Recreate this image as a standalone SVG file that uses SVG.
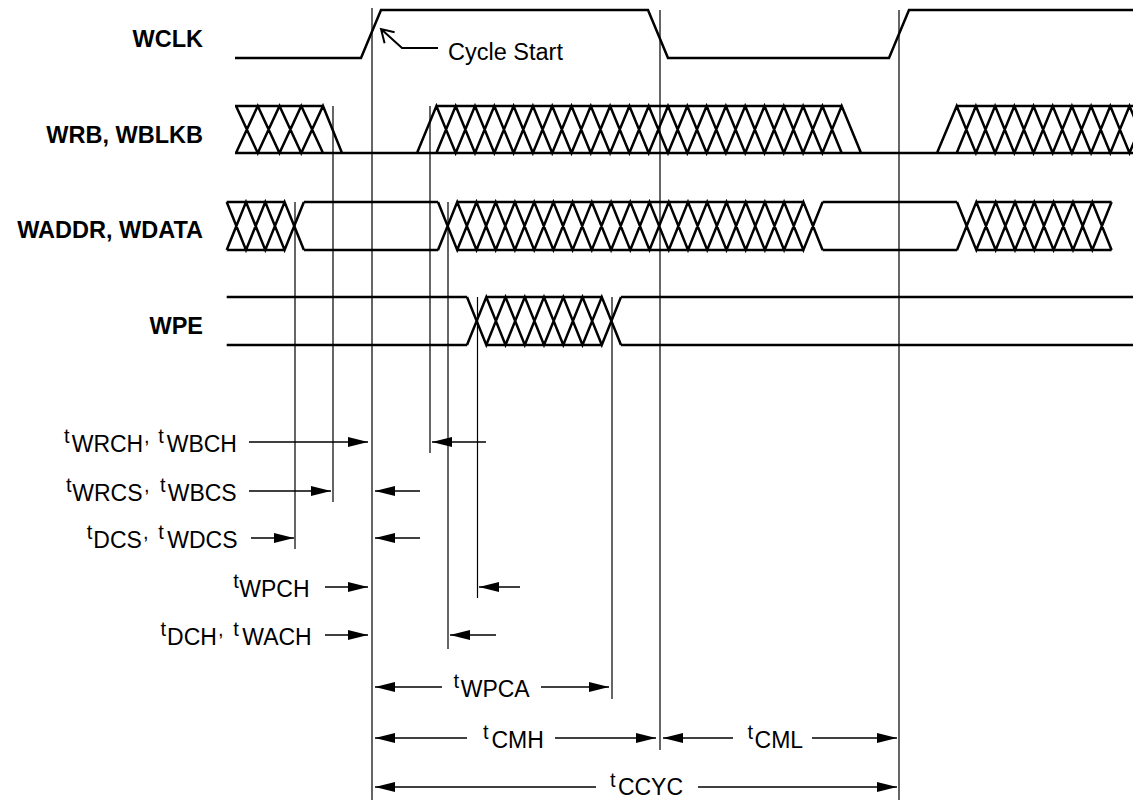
<svg xmlns="http://www.w3.org/2000/svg" width="1133" height="800" viewBox="0 0 1133 800">
<style>
.sig{fill:none;stroke:#000;stroke-width:2.5;stroke-linejoin:miter}
.guide{fill:none;stroke:#000;stroke-width:1.2}
.arr{fill:none;stroke:#000;stroke-width:1.3;marker-end:url(#ah)}
.lbl{font-family:"Liberation Sans",Arial,sans-serif;font-weight:bold;font-size:23.5px;fill:#000;text-anchor:end}
.tl{font-family:"Liberation Sans",Arial,sans-serif;font-size:23px;fill:#000}
.sp{font-size:20px}
</style>
<defs>
<marker id="ah" markerUnits="userSpaceOnUse" markerWidth="20" markerHeight="10" refX="20" refY="5" orient="auto">
<path d="M0 0 L20 5 L0 10 Z" fill="#000"/>
</marker>
</defs>
<rect width="1133" height="800" fill="#fff"/>

<g id="wclk">
<text class="lbl" x="203" y="47">WCLK</text>
<path class="sig" d="M235 58 H361 L381 10 H648 L668 58 H889 L909 10 H1133"/>
<path fill="none" stroke="#000" stroke-width="2" d="M438 48 H402 L381 29 M394.6 32.2 L381 29 L384.6 43.3"/>
<text class="tl" x="448" y="60" style="font-size:23.5px">Cycle Start</text>
</g>

<g id="wrb">
<text class="lbl" x="203" y="143">WRB, WBLKB</text>
<path class="sig" d="M235 153 H1133 M235 106 H323
M236 106 L257.75 153 L279.5 106 L301.25 153 L323 106 L342 153
M236 153 L257.75 106 L279.5 153 L301.25 106 L323 153
M436.4 106 H841.7
M417 153 L436.4 106 L455.7 153 L475 106 L494.3 153 L513.6 106 L532.9 153 L552.2 106 L571.5 153 L590.8 106 L610.1 153 L629.4 106 L648.7 153 L668 106 L687.3 153 L706.6 106 L725.9 153 L745.2 106 L764.5 153 L783.8 106 L803.1 153 L822.4 106 L841.7 153
M436.4 153 L455.7 106 L475 153 L494.3 106 L513.6 153 L532.9 106 L552.2 153 L571.5 106 L590.8 153 L610.1 106 L629.4 153 L648.7 106 L668 153 L687.3 106 L706.6 153 L725.9 106 L745.2 153 L764.5 106 L783.8 153 L803.1 106 L822.4 153 L841.7 106 L861 153
M956.7 106 H1133
M937 153 L956.7 106 L975.9 153 L995.1 106 L1014.3 153 L1033.5 106 L1052.7 153 L1071.9 106 L1091.1 153 L1110.3 106 L1129.5 153 L1148.7 106
M956.7 153 L975.9 106 L995.1 153 L1014.3 106 L1033.5 153 L1052.7 106 L1071.9 153 L1091.1 106 L1110.3 153 L1129.5 106 L1148.7 153"/>
</g>

<g id="waddr">
<text class="lbl" x="203" y="238">WADDR, WDATA</text>
<path class="sig" d="M226.7 202 H284.6 M226.7 250 H284.6
M226.7 202 L246 250 L265.3 202 L284.6 250 L303.9 202
M226.7 250 L246 202 L265.3 250 L284.6 202 L303.9 250
M303.9 202 H438 M303.9 250 H438
M438 202 L457.2 250 L476.5 202 L495.7 250 L514.9 202 L534.2 250 L553.4 202 L572.6 250 L591.8 202 L611.1 250 L630.3 202 L649.5 250 L668.8 202 L688 250 L707.2 202 L726.5 250 L745.7 202 L764.9 250 L784.1 202 L803.4 250 L822.6 202
M438 250 L457.2 202 L476.5 250 L495.7 202 L514.9 250 L534.2 202 L553.4 250 L572.6 202 L591.8 250 L611.1 202 L630.3 250 L649.5 202 L668.8 250 L688 202 L707.2 250 L726.5 202 L745.7 250 L764.9 202 L784.1 250 L803.4 202 L822.6 250
M457.2 202 H803.4 M457.2 250 H803.4
M822.6 202 H957 M822.6 250 H957
M957 202 L976.3 250 L995.7 202 L1015 250 L1034.3 202 L1053.6 250 L1073 202 L1092.3 250 L1111.6 202
M957 250 L976.3 202 L995.7 250 L1015 202 L1034.3 250 L1053.6 202 L1073 250 L1092.3 202 L1111.6 250
M976.3 202 H1111.6 M976.3 250 H1111.6"/>
</g>

<g id="wpe">
<text class="lbl" x="203" y="334">WPE</text>
<path class="sig" d="M226.7 297 H467 M226.7 345 H467
M467 297 L486.3 345 L505.5 297 L524.8 345 L544 297 L563.3 345 L582.5 297 L601.8 345 L621 297
M467 345 L486.3 297 L505.5 345 L524.8 297 L544 345 L563.3 297 L582.5 345 L601.8 297 L621 345
M486.3 297 H601.8 M486.3 345 H601.8
M621 297 H1133 M621 345 H1133"/>
</g>

<g id="connectors">
<path class="guide" d="M295 202 V549 M333 106 V502 M372 8 V800 M430 106 V453 M448 202 V649 M477.5 297 V598 M612 297 V699 M660 10 V750 M899 10 V800"/>
<path class="arr" d="M249 442 L368 442"/>
<path class="arr" d="M486 442 L432 442"/>
<path class="arr" d="M249 491 L331 491"/>
<path class="arr" d="M420 491 L375 491"/>
<path class="arr" d="M251 538 L294 538"/>
<path class="arr" d="M420 538 L375 538"/>
<path class="arr" d="M325 587 L368 587"/>
<path class="arr" d="M520 587 L479 587"/>
<path class="arr" d="M325 635 L368 635"/>
<path class="arr" d="M496 635 L450 635"/>
<path class="arr" d="M442 687 L375 687"/>
<path class="arr" d="M541 687 L609 687"/>
<path class="arr" d="M467 738 L375 738"/>
<path class="arr" d="M555 738 L656 738"/>
<path class="arr" d="M733 738 L663 738"/>
<path class="arr" d="M812 738 L897 738"/>
<path class="arr" d="M596 787 L375 787"/>
<path class="arr" d="M698 787 L897 787"/>
</g>

<g id="t-wrch">
<text class="tl"><tspan class="sp" x="64" y="443">t</tspan><tspan x="71.7" y="452">WRCH</tspan><tspan class="sp" x="144" y="443">,</tspan><tspan class="sp" x="158.3" y="443">t</tspan><tspan x="166.7" y="452">WBCH</tspan></text>
</g>
<g id="t-wrcs">
<text class="tl"><tspan class="sp" x="66" y="492">t</tspan><tspan x="72.3" y="501">WRCS</tspan><tspan class="sp" x="144" y="492">,</tspan><tspan class="sp" x="160" y="492">t</tspan><tspan x="167.7" y="501">WBCS</tspan></text>
</g>
<g id="t-dcs">
<text class="tl"><tspan class="sp" x="86.7" y="539">t</tspan><tspan x="93.3" y="548">DCS</tspan><tspan class="sp" x="143" y="539">,</tspan><tspan class="sp" x="158.3" y="539">t</tspan><tspan x="167.3" y="548">WDCS</tspan></text>
</g>
<g id="t-wpch">
<text class="tl"><tspan class="sp" x="233.3" y="588">t</tspan><tspan x="239.3" y="597">WPCH</tspan></text>
</g>
<g id="t-dch">
<text class="tl"><tspan class="sp" x="160.5" y="636">t</tspan><tspan x="167.1" y="645">DCH</tspan><tspan class="sp" x="218" y="636">,</tspan><tspan class="sp" x="233.3" y="636">t</tspan><tspan x="242.3" y="645">WACH</tspan></text>
</g>
<g id="t-wpca">
<text class="tl"><tspan class="sp" x="453.6" y="688">t</tspan><tspan x="460.7" y="697">WPCA</tspan></text>
</g>
<g id="t-cmh">
<text class="tl"><tspan class="sp" x="483" y="739">t</tspan><tspan x="491.4" y="748">CMH</tspan></text>
</g>
<g id="t-cml">
<text class="tl"><tspan class="sp" x="747.5" y="739">t</tspan><tspan x="754.6" y="748">CML</tspan></text>
</g>
<g id="t-ccyc">
<text class="tl"><tspan class="sp" x="610" y="787">t</tspan><tspan x="617.9" y="795">CCYC</tspan></text>
</g>
</svg>
